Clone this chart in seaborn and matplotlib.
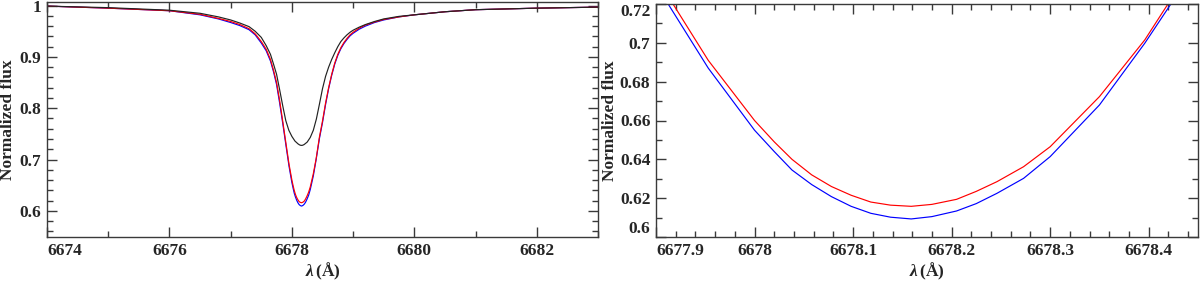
import numpy as np
import pandas as pd
import matplotlib
matplotlib.use("Agg")
import matplotlib.pyplot as plt
import seaborn as sns
from matplotlib.ticker import MultipleLocator

# ---------------- data ----------------
# black model: wavelengths and normalized flux
wl_black = [6674.0, 6675.0, 6676.0, 6676.5, 6676.8, 6677.0, 6677.15, 6677.3, 6677.4,
            6677.5, 6677.58, 6677.65, 6677.7, 6677.75, 6677.8, 6677.85, 6677.9, 6677.95,
            6678.0, 6678.05, 6678.1, 6678.125, 6678.15, 6678.175, 6678.2, 6678.25,
            6678.3, 6678.35, 6678.4, 6678.45, 6678.5, 6678.55, 6678.6, 6678.65, 6678.7,
            6678.75, 6678.8, 6678.85, 6678.9, 6678.95, 6679.0, 6679.1, 6679.2, 6679.35,
            6679.5, 6679.75, 6680.0, 6680.5, 6681.0, 6682.0, 6683.0]
flux_black = [0.999, 0.996, 0.991, 0.985, 0.978, 0.972, 0.966, 0.959, 0.950,
              0.938, 0.922, 0.905, 0.886, 0.866, 0.836, 0.805, 0.776, 0.757,
              0.745, 0.736, 0.7305, 0.7285, 0.7275, 0.7278, 0.7292, 0.734,
              0.743, 0.757, 0.779, 0.808, 0.838, 0.862, 0.880, 0.895, 0.908,
              0.920, 0.930, 0.937, 0.943, 0.948, 0.952, 0.958, 0.963, 0.969,
              0.974, 0.979, 0.982, 0.988, 0.992, 0.995, 0.997]

# red and blue models share the same wavelength grid
wl_rb = [6674.0, 6675.0, 6676.0, 6676.5, 6676.8, 6677.0, 6677.15, 6677.3, 6677.4,
         6677.5, 6677.58, 6677.65, 6677.7, 6677.75, 6677.8, 6677.85, 6677.9, 6677.953,
         6678.0, 6678.02, 6678.038, 6678.058, 6678.078, 6678.098, 6678.118, 6678.138,
         6678.159, 6678.18, 6678.205, 6678.225, 6678.246, 6678.273, 6678.3, 6678.35,
         6678.396, 6678.45, 6678.5, 6678.55, 6678.6, 6678.65, 6678.7, 6678.75, 6678.8,
         6678.85, 6678.9, 6678.95, 6679.0, 6679.1, 6679.2, 6679.35, 6679.5, 6679.75,
         6680.0, 6680.5, 6681.0, 6682.0, 6683.0]
flux_red = [0.999, 0.995, 0.990, 0.983, 0.975, 0.969, 0.963, 0.955, 0.945,
            0.930, 0.915, 0.895, 0.874, 0.850, 0.815, 0.775, 0.734, 0.691,
            0.660, 0.649, 0.640, 0.632, 0.626, 0.6215, 0.618, 0.6164,
            0.6158, 0.6168, 0.6194, 0.6235, 0.6285, 0.6362, 0.6465, 0.6723,
            0.7015, 0.744, 0.775, 0.810, 0.840, 0.866, 0.888, 0.905, 0.918,
            0.928, 0.936, 0.943, 0.948, 0.956, 0.962, 0.968, 0.973, 0.978,
            0.982, 0.988, 0.992, 0.995, 0.997]
flux_blue = [0.999, 0.995, 0.990, 0.982, 0.974, 0.967, 0.961, 0.953, 0.943,
             0.927, 0.912, 0.892, 0.871, 0.846, 0.810, 0.771, 0.730, 0.687,
             0.655, 0.644, 0.6345, 0.627, 0.6208, 0.6158, 0.6122, 0.6102,
             0.6093, 0.6105, 0.6134, 0.6172, 0.6225, 0.6302, 0.6414, 0.668,
             0.6998, 0.741, 0.772, 0.807, 0.838, 0.864, 0.886, 0.903, 0.916,
             0.926, 0.934, 0.941, 0.946, 0.954, 0.960, 0.967, 0.972, 0.978,
             0.982, 0.988, 0.992, 0.995, 0.997]

left_xticks = [6674, 6676, 6678, 6680, 6682]
left_yticks = [0.6, 0.7, 0.8, 0.9, 1.0]
right_xticks = [6677.9, 6678.0, 6678.1, 6678.2, 6678.3, 6678.4]
right_yticks = [0.6, 0.62, 0.64, 0.66, 0.68, 0.70, 0.72]

# ---------------- style ----------------
sns.set_theme(style="ticks")
plt.rcParams["font.family"] = "serif"
plt.rcParams["font.serif"] = ["Liberation Serif", "DejaVu Serif"]
plt.rcParams["font.weight"] = "bold"
plt.rcParams["axes.labelweight"] = "bold"
plt.rcParams["mathtext.fontset"] = "custom"
plt.rcParams["mathtext.it"] = "Liberation Serif:italic:bold"
plt.rcParams["mathtext.rm"] = "Liberation Serif:bold"
plt.rcParams["mathtext.bf"] = "Liberation Serif:bold"

FS = 12.5
SPINE = "#3a3a3a"
LW = 0.85

df_black = pd.DataFrame({"wl": wl_black, "flux": flux_black})
df_rb = pd.DataFrame({"wl": wl_rb, "red": flux_red, "blue": flux_blue})

fig = plt.figure(figsize=(12, 2.81), dpi=100)
axL = fig.add_axes([47 / 1200, 1 - 237 / 281, 551 / 1200, 235 / 281])
axR = fig.add_axes([656 / 1200, 1 - 237 / 281, 542 / 1200, 233 / 281])


def fmt(v):
    return ("%g" % round(v, 3))


def style_axes(ax):
    for s in ax.spines.values():
        s.set_color(SPINE)
        s.set_linewidth(1.0)
    ax.tick_params(which="both", direction="in", top=True, right=True,
                   color=SPINE, width=1.0, labelsize=FS, pad=4)
    ax.tick_params(which="major", length=7)
    ax.tick_params(which="minor", length=4)


# ---- left panel ----
sns.lineplot(data=df_rb, x="wl", y="blue", ax=axL, color="#0000ff", lw=LW,
             sort=False, estimator=None)
sns.lineplot(data=df_rb, x="wl", y="red", ax=axL, color="#ff0000", lw=LW,
             sort=False, estimator=None)
sns.lineplot(data=df_black, x="wl", y="flux", ax=axL, color="#222222", lw=LW,
             sort=False, estimator=None)
axL.set_xlim(6674.0, 6683.0)
axL.set_ylim(0.549, 1.007)
axL.set_xticks(left_xticks)
axL.set_xticklabels([fmt(v) for v in left_xticks])
axL.xaxis.set_minor_locator(MultipleLocator(1))
axL.set_yticks(left_yticks)
axL.set_yticklabels([fmt(v) for v in left_yticks])
axL.yaxis.set_minor_locator(MultipleLocator(0.02))
style_axes(axL)
axL.get_xticklabels()[0].set_ha("left")

# ---- right panel ----
sns.lineplot(data=df_rb, x="wl", y="blue", ax=axR, color="#0000ff", lw=LW,
             sort=False, estimator=None)
sns.lineplot(data=df_rb, x="wl", y="red", ax=axR, color="#ff0000", lw=LW,
             sort=False, estimator=None)
axR.set_xlim(6677.9, 6678.45)
axR.set_ylim(0.6, 0.72)
axR.set_xticks(right_xticks)
axR.set_xticklabels([fmt(v) for v in right_xticks])
axR.xaxis.set_minor_locator(MultipleLocator(0.02))
axR.set_yticks(right_yticks)
axR.set_yticklabels([fmt(v) for v in right_yticks])
axR.yaxis.set_minor_locator(MultipleLocator(0.01))
style_axes(axR)
axR.get_xticklabels()[0].set_ha("left")
axR.get_yticklabels()[0].set_va("bottom")
axR.get_yticklabels()[-1].set_va("top")

for ax, lx in ((axL, -0.056), (axR, -0.071)):
    ax.set_xlabel(r"$\lambda\,$(Å)", fontsize=FS, fontweight="bold")
    ax.set_ylabel("Normalized flux", fontsize=FS, fontweight="bold")
    ax.xaxis.set_label_coords(0.5, -0.10)
    ax.yaxis.set_label_coords(lx, 0.5)

fig.savefig("out.png", dpi=100)
